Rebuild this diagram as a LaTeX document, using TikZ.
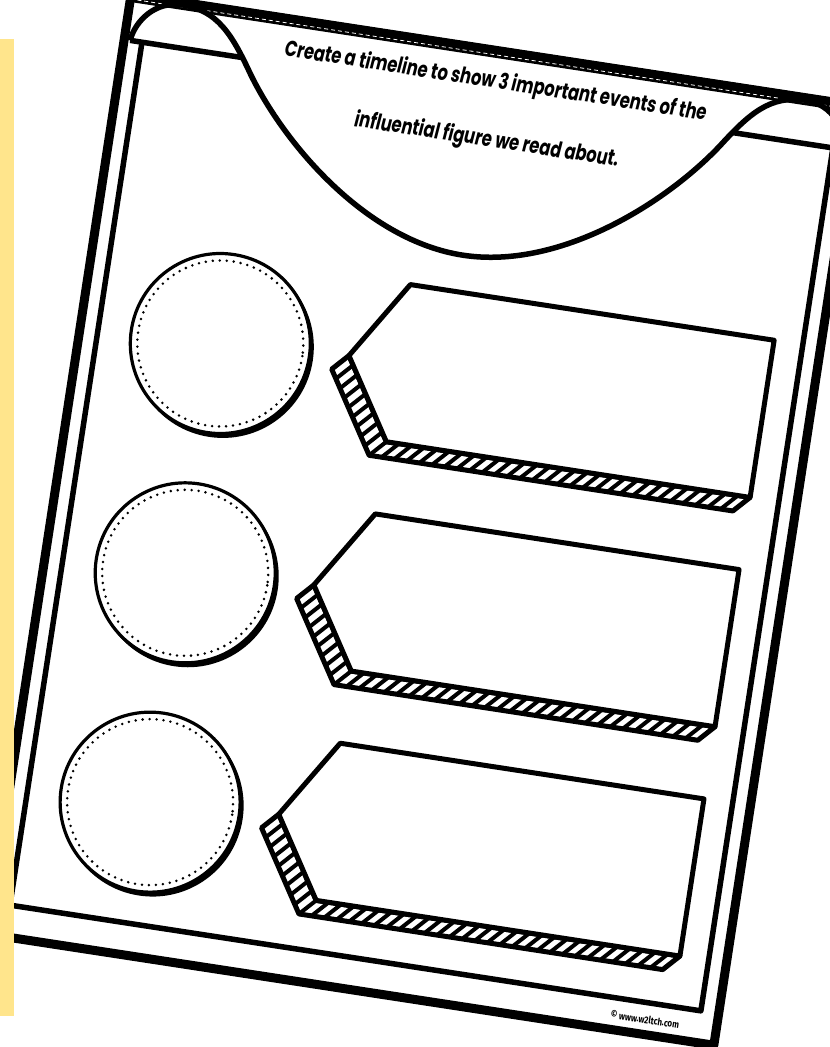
\documentclass[tikz,border=0pt]{standalone}
\usepackage{fontspec}
\newfontfamily\titlefont[FakeStretch=0.74,FakeSlant=0.1]{Poppins}
\newfontfamily\creditfont[FakeStretch=0.8]{Fira Sans}
\definecolor{stripyellow}{HTML}{FFE58C}

\begin{document}
\begin{tikzpicture}[x=1pt, y=-1pt, line join=round,
  frame/.style={line width=9pt},
  rule/.style={line width=5.5pt},
  face/.style={line width=5pt, fill=white},
  band/.style={line width=5pt, fill=white},
  tick/.style={line width=4pt},
  ring/.style={line width=3.2pt, fill=white},
  dots/.style={line width=2.8pt, line cap=round, dash pattern=on 0pt off 7pt},
  title/.style={font=\titlefont\bfseries\fontsize{22}{22}\selectfont, anchor=base, transform shape}]
  \useasboundingbox (0,0) rectangle (830,1047);
  \clip (0,0) rectangle (830,1047);
  \fill[white] (0,0) rectangle (830,1047);
  % tilted worksheet
  \begin{scope}[shift={(131,-5)}, rotate=-8.7]
    \fill[white] (0,0) rectangle (735,950);
    \draw[frame] (0,0) rectangle (735,950);
    \draw[line width=12pt] (0,1) -- (735,1);
    \draw[white, line width=0.8pt, dash pattern=on 4pt off 3pt] (0,4) -- (735,4);
    % inner frame
    \draw[rule] (18,45) -- (18,918) -- (717,918) -- (717,45);
    % banner with rolled ends
    \draw[rule] (6,45) -- (120,45);
    \draw[rule] (615,45) -- (729,45);
    \draw[rule] (6,45) .. controls (8,25) and (25,2) .. (52,2)
      .. controls (88,2) and (106,24) .. (130,60)
      .. controls (175,125) and (270,207) .. (367.5,207)
      .. controls (465,207) and (560,125) .. (605,60)
      .. controls (629,24) and (647,2) .. (683,2)
      .. controls (710,2) and (727,25) .. (729,45);
    \node[title] (line1) at (373,37) {Create a timeline to show 3 important events of the};
    \node[title] (line2) at (373,96) {influential figure we read about.};
    % three rows: circle and event tag
    \foreach \row in {0,1,2} {
      \pgfmathsetmacro{\cy}{331+232*\row}
      \pgfmathsetmacro{\ty}{244+232*\row}
      \fill (144,{\cy+3}) circle[radius=91];
      \draw[ring] (141,\cy) circle[radius=90];
      \draw[dots] (141,\cy) circle[radius=83];
      % shaded edge of the tag
      \draw[band] (270,{\ty+79.5}) -- (320,{\ty+159}) -- (688,{\ty+159})
        -- (673,{\ty+175}) -- (305,{\ty+175}) -- (255,{\ty+95.5}) -- cycle;
      \foreach \k in {1,...,28}
        \draw[tick] ({320+\k*12.7},{\ty+159}) -- ({305+\k*12.7},{\ty+175});
      \foreach \k in {1,...,9}
        \draw[tick] ({270+\k*5.56},{\ty+79.5+\k*8.83}) -- ({255+\k*5.56},{\ty+95.5+\k*8.83});
      \draw[face] (270,{\ty+79.5}) -- (320,\ty) -- (688,\ty) -- (688,{\ty+159})
        -- (320,{\ty+159}) -- cycle;
    }
    \node[font=\creditfont\bfseries\fontsize{10}{10}\selectfont, anchor=east, transform shape] (credit) at (701,935) {\textcopyright{} www.w2ltch.com};
  \end{scope}
  \fill[stripyellow] (0,39) rectangle (14,1016);
\end{tikzpicture}
\end{document}
